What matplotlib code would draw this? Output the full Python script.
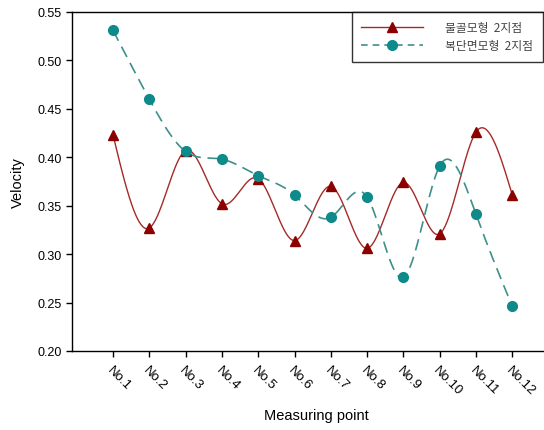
import numpy as np
import matplotlib
matplotlib.use("Agg")
import matplotlib.pyplot as plt

categories = ["No.1", "No.2", "No.3", "No.4", "No.5", "No.6",
              "No.7", "No.8", "No.9", "No.10", "No.11", "No.12"]
series_a_name = "물골모형  2지점"
series_b_name = "복단면모형  2지점"
series_a = [0.423, 0.327, 0.407, 0.352, 0.378, 0.314, 0.370, 0.306, 0.374, 0.321, 0.426, 0.361]
series_b = [0.531, 0.460, 0.406, 0.398, 0.381, 0.361, 0.338, 0.359, 0.276, 0.391, 0.341, 0.246]
yticks = [0.20, 0.25, 0.30, 0.35, 0.40, 0.45, 0.50, 0.55]


def natural_spline(x, y, n=40):
    x = np.asarray(x, float); y = np.asarray(y, float)
    k = len(x); h = np.diff(x)
    A = np.zeros((k, k)); r = np.zeros(k)
    A[0, 0] = A[-1, -1] = 1
    for i in range(1, k - 1):
        A[i, i - 1] = h[i - 1]; A[i, i] = 2 * (h[i - 1] + h[i]); A[i, i + 1] = h[i]
        r[i] = 3 * ((y[i + 1] - y[i]) / h[i] - (y[i] - y[i - 1]) / h[i - 1])
    c = np.linalg.solve(A, r)
    xs, ys = [], []
    for i in range(k - 1):
        b = (y[i + 1] - y[i]) / h[i] - h[i] * (2 * c[i] + c[i + 1]) / 3
        d = (c[i + 1] - c[i]) / (3 * h[i])
        t = np.linspace(0, h[i], n, endpoint=(i == k - 2))
        xs.append(x[i] + t)
        ys.append(y[i] + b * t + c[i] * t ** 2 + d * t ** 3)
    return np.concatenate(xs), np.concatenate(ys)


plt.rcParams['font.family'] = ['Liberation Sans', 'Noto Sans CJK KR']
fig = plt.figure(figsize=(5.44, 4.31), dpi=100)
ax = fig.add_axes([72 / 544, 1 - 352 / 431, (560 - 72) / 544, (352 - 13) / 431])

x = np.arange(1, len(categories) + 1)
red = "#8B0000"
teal = "#0E8A8A"
line_red = "#A52A2A"
line_teal = "#3F8F8A"

xa, ya = natural_spline(x, series_a)
xb, yb = natural_spline(x, series_b)
ax.plot(xa, ya, color=line_red, lw=1.0, zorder=2)
ax.plot(xb, yb, color=line_teal, lw=1.2, ls=(0, (7, 4)), zorder=2)
ax.plot(x, series_a, ls='none', marker='^', ms=7, color=red, zorder=3)
ax.plot(x, series_b, ls='none', marker='o', ms=7, color=teal, zorder=3)

from matplotlib.lines import Line2D
h1 = Line2D([], [], color=line_red, lw=1.0, marker='^', ms=7, mfc=red, mec=red)
h2 = Line2D([], [], color=line_teal, lw=1.2, ls=(0, (4, 3)), marker='o', ms=7, mfc=teal, mec=teal)
leg = ax.legend([h1, h2], [series_a_name, series_b_name], loc='upper left',
                bbox_to_anchor=((352 - 72) / (560 - 72), 1.0), handlelength=5.2,
                fontsize=8.5, frameon=True, fancybox=False, borderpad=0.8,
                labelspacing=0.4, handletextpad=1.9, borderaxespad=0)
leg.get_frame().set_edgecolor('black')
leg.get_frame().set_linewidth(1.0)
for t in leg.get_texts():
    t.set_color('#444444')
    t.set_family(['Noto Sans CJK KR'])

ax.set_xlim(x[0] - 1.13, x[0] - 1.13 + (560 - 72) / 36.3)
ax.set_ylim(0.20, 0.55)
ax.set_yticks(yticks)
ax.set_yticklabels([f"{v:.2f}" for v in yticks], fontsize=9)
ax.set_xticks(x)
ax.set_xticklabels(categories, rotation=-45, ha='left', va='top',
                   rotation_mode='anchor', fontsize=9.5)
ax.tick_params(direction='out', length=4, width=1, top=False, right=False)
ax.tick_params(axis='x', pad=5)
for s in ax.spines.values():
    s.set_linewidth(1.0)
ax.set_ylabel("Velocity", fontsize=10.5, labelpad=9)
ax.set_xlabel("Measuring point", fontsize=10.5, labelpad=8)
fig.savefig("out.png", dpi=100)
